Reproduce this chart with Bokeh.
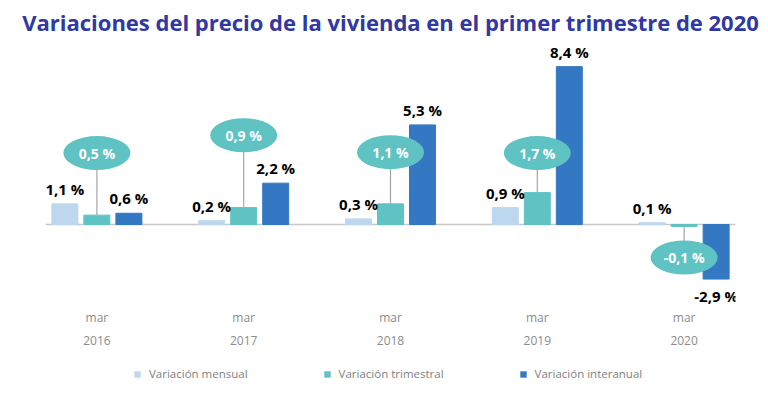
from bokeh.plotting import figure
from bokeh.layouts import column
from bokeh.models import (ColumnDataSource, FixedTicker, LinearAxis, Range1d,
                          Legend, LegendItem, Span)
from bokeh.transform import dodge
from bokeh.core.properties import value
from bokeh.embed import file_html
from bokeh.resources import INLINE

# ---- data ----
years = ["2016", "2017", "2018", "2019", "2020"]
months = ["mar", "mar", "mar", "mar", "mar"]
mensual = [1.1, 0.2, 0.3, 0.9, 0.1]
trimestral = [0.5, 0.9, 1.1, 1.7, -0.1]
interanual = [0.6, 2.2, 5.3, 8.4, -2.9]
series_names = ["Variación mensual", "Variación trimestral", "Variación interanual"]
# height (in value units) of the callout bubble for the quarterly value
callout_y = [3.8, 4.75, 3.85, 3.8, -1.75]

C_MEN = "#BDD7EE"
C_TRI = "#5FC3C3"
C_INT = "#3478C3"
FONT = "Open Sans"

idx = list(range(len(years)))

def fmt(v):
    return ("%.1f" % v).replace(".", ",") + " %"

src = ColumnDataSource(dict(
    x=idx,
    men=mensual, tri=trimestral, inter=interanual,
    cy=callout_y,
    tri_lbl=[fmt(v) for v in trimestral],
))

p = figure(width=760, height=364, output_backend="svg", toolbar_location=None,
           x_range=Range1d(-0.35, 4.35), y_range=Range1d(-4.36, 9.79),
           min_border_left=45, min_border_right=25, min_border_top=40,
           min_border_bottom=58)
p.outline_line_color = None
p.xgrid.visible = False
p.ygrid.visible = False
p.yaxis.visible = False
p.background_fill_color = "white"
p.border_fill_color = "white"

p.title.text = "Variaciones del precio de la vivienda en el primer trimestre de 2020"
p.title.text_font = FONT
p.title.text_font_size = "22px"
p.title.text_font_style = "bold"
p.title.text_color = "#3038A3"
p.title.align = "center"
p.title.standoff = 7

base = Span(location=0, dimension="width", line_color="#C8C8C8", line_width=1.5,
            level="underlay")
p.add_layout(base)

off = 0.218
bw = 0.177
r1 = p.vbar(x=dodge("x", -off), top="men", width=bw, source=src, color=C_MEN)
r2 = p.vbar(x="x", top="tri", width=bw, source=src, color=C_TRI)
r3 = p.vbar(x=dodge("x", off), top="inter", width=bw, source=src, color=C_INT)

# connectors + bubbles
p.segment(x0="x", y0="tri", x1="x", y1="cy", source=src, line_color="#A6A6A6",
          line_width=1.2)
p.ellipse(x="x", y="cy", width=67, height=34, width_units="screen",
          height_units="screen", source=src, fill_color=C_TRI, line_color=None)
p.text(x="x", y="cy", text="tri_lbl", source=src, text_align="center",
       text_baseline="middle", text_color="white", text_font=value(FONT),
       text_font_size="14px", text_font_style="bold")

# value labels
men_pos = ColumnDataSource(dict(x=idx, y=mensual, t=[fmt(v) for v in mensual]))
p.text(x=dodge("x", -off), y="y", text="t", source=men_pos, text_align="center",
       text_baseline="bottom", y_offset=-5, text_color="black",
       text_font=value(FONT), text_font_size="15px", text_font_style="bold")

ipos = [i for i, v in enumerate(interanual) if v >= 0]
ineg = [i for i, v in enumerate(interanual) if v < 0]
int_pos = ColumnDataSource(dict(x=ipos, y=[interanual[i] for i in ipos],
                                t=[fmt(interanual[i]) for i in ipos]))
int_neg = ColumnDataSource(dict(x=ineg, y=[interanual[i] for i in ineg],
                                t=[fmt(interanual[i]) for i in ineg]))
p.text(x=dodge("x", off), y="y", text="t", source=int_pos, text_align="center",
       text_baseline="bottom", y_offset=-5, text_color="black",
       text_font=value(FONT), text_font_size="15px", text_font_style="bold")
p.text(x=dodge("x", off), y="y", text="t", source=int_neg, text_align="center",
       text_baseline="top", y_offset=7, text_color="black",
       text_font=value(FONT), text_font_size="15px", text_font_style="bold")

# axes: month row and year row
ax1 = p.xaxis[0]
ax1.ticker = FixedTicker(ticks=idx)
ax1.major_label_overrides = {i: m for i, m in zip(idx, months)}
ax2 = LinearAxis(ticker=FixedTicker(ticks=idx),
                 major_label_overrides={i: y for i, y in zip(idx, years)})
p.add_layout(ax2, "below")
for ax, so in ((ax1, 2), (ax2, 7)):
    ax.axis_line_color = None
    ax.major_tick_line_color = None
    ax.minor_tick_line_color = None
    ax.major_tick_out = 0
    ax.major_tick_in = 0
    ax.minor_tick_out = 0
    ax.major_label_standoff = so
    ax.major_label_text_font = FONT
    ax.major_label_text_font_size = "12px"
    ax.major_label_text_color = "#8C8C8C"

# legend strip
lg = figure(width=760, height=20, output_backend="svg", toolbar_location=None,
            x_range=Range1d(0, 1), y_range=Range1d(0, 1),
            min_border=0, outline_line_color=None)
lg.axis.visible = False
lg.grid.visible = False
lg.border_fill_color = "white"
outside = dict(x=[0.5], top=[-1])
l1 = lg.vbar(x="x", top="top", width=0.1, source=ColumnDataSource(outside),
             fill_color=C_MEN, line_color=None)
l2 = lg.vbar(x="x", top="top", width=0.1, source=ColumnDataSource(outside),
             fill_color=C_TRI, line_color=None)
l3 = lg.vbar(x="x", top="top", width=0.1, source=ColumnDataSource(outside),
             fill_color=C_INT, line_color=None)
legend = Legend(items=[LegendItem(label=series_names[0], renderers=[l1]),
                       LegendItem(label=series_names[1], renderers=[l2]),
                       LegendItem(label=series_names[2], renderers=[l3])],
                orientation="horizontal", location=(88, 3),
                margin=0, padding=0, spacing=75, label_standoff=8,
                glyph_width=8, glyph_height=8, label_height=14,
                label_text_font=FONT, label_text_font_size="11.5px",
                label_text_color="#7F7F7F", border_line_color=None,
                background_fill_alpha=0)
lg.add_layout(legend)

layout = column(p, lg, spacing=0)
open("out.html", "w").write(file_html(layout, INLINE))
